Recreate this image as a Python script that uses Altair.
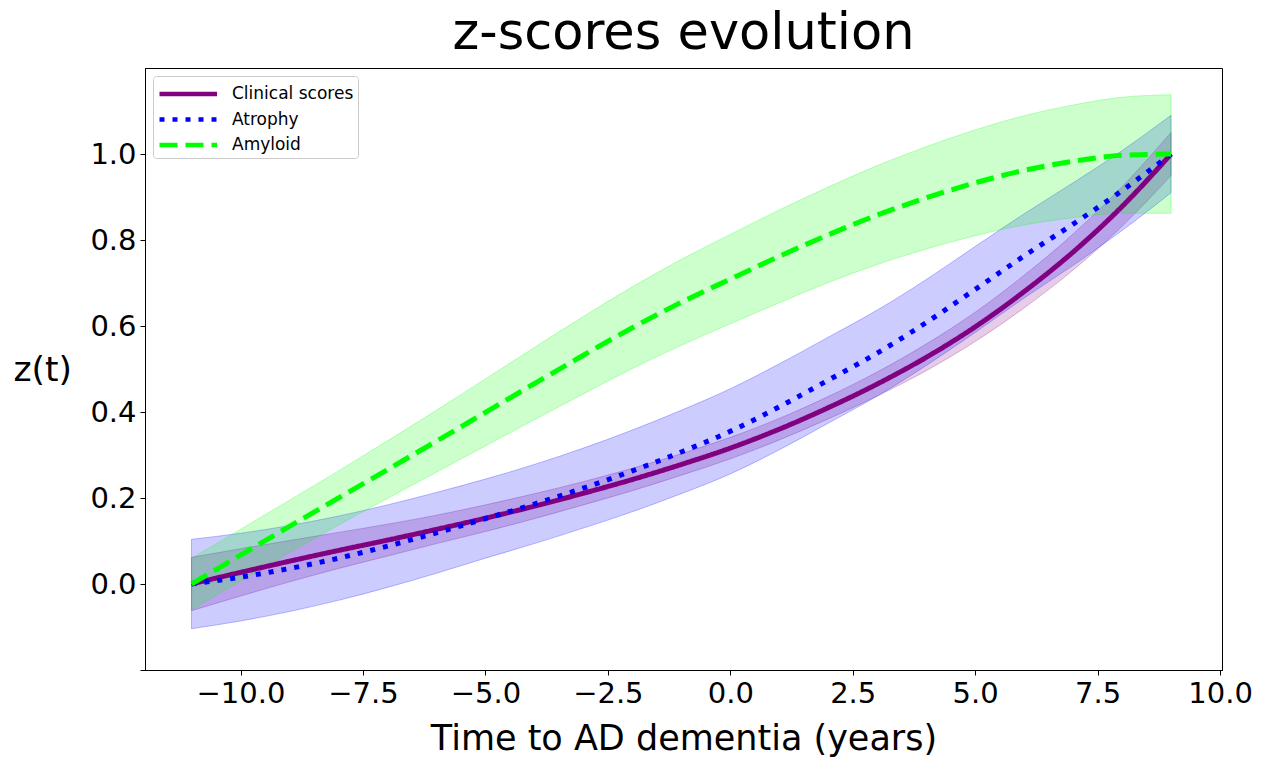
import altair as alt
import pandas as pd

# ---- data ----
t_years = [-11, -10, -9, -8, -7, -6, -5, -4, -3, -2, -1, 0, 1, 2, 3, 4, 5, 6, 7, 8, 9]

clinical = [0.000, 0.027, 0.053, 0.078, 0.102, 0.127, 0.153, 0.181, 0.211, 0.243, 0.278,
            0.316, 0.360, 0.410, 0.465, 0.527, 0.598, 0.680, 0.772, 0.878, 1.000]
atrophy = [0.000, 0.016, 0.036, 0.060, 0.088, 0.119, 0.152, 0.186, 0.223, 0.263, 0.307,
           0.355, 0.412, 0.474, 0.537, 0.608, 0.685, 0.763, 0.837, 0.915, 1.000]
amyloid = [0.000, 0.067, 0.134, 0.200, 0.266, 0.332, 0.399, 0.466, 0.532, 0.596, 0.655,
           0.709, 0.762, 0.812, 0.858, 0.898, 0.933, 0.962, 0.983, 0.997, 1.000]

# half widths of the shaded uncertainty bands
clinical_hw = [0.062, 0.055, 0.048, 0.042, 0.037, 0.033, 0.031, 0.029, 0.027, 0.026, 0.025,
               0.025, 0.025, 0.026, 0.028, 0.031, 0.034, 0.038, 0.042, 0.046, 0.050]
atrophy_hw = [0.104, 0.102, 0.100, 0.098, 0.096, 0.094, 0.092, 0.092, 0.093, 0.095, 0.097,
              0.099, 0.100, 0.100, 0.100, 0.100, 0.100, 0.098, 0.096, 0.093, 0.090]
amyloid_hw = [0.060, 0.060, 0.061, 0.063, 0.067, 0.072, 0.078, 0.084, 0.090, 0.095, 0.100,
              0.104, 0.108, 0.111, 0.115, 0.119, 0.123, 0.127, 0.131, 0.135, 0.138]

series_names = ["Clinical scores", "Atrophy", "Amyloid"]
series_colors = ["#800080", "#0000ff", "#00ff00"]
series_dashes = [[1, 0], [5, 8], [18, 8]]

x_ticks = [-10, -7.5, -5, -2.5, 0, 2.5, 5, 7.5, 10]
y_ticks = [-0.2, 0.0, 0.2, 0.4, 0.6, 0.8, 1.0]

rows = []
for name, vals, hws in zip(series_names, [clinical, atrophy, amyloid],
                           [clinical_hw, atrophy_hw, amyloid_hw]):
    for tv, v, h in zip(t_years, vals, hws):
        rows.append({"t": tv, "z": v, "lo": v - h, "hi": v + h, "series": name})
df = pd.DataFrame(rows)

FONT = "DejaVu Sans"

x_enc = alt.X(
    "t:Q",
    scale=alt.Scale(domain=[-11.95, 10.04], nice=False, zero=False),
    axis=alt.Axis(
        title="Time to AD dementia (years)", values=x_ticks, format=".1f",
        labelFontSize=29, titleFontSize=35, labelFlush=False, labelOverlap=False,
        tickSize=5, labelPadding=4, titleBaseline="alphabetic", titleY=79.5,
        titleFontWeight="normal",
    ),
)
y_scale = alt.Scale(domain=[-0.2, 1.2], nice=False, zero=False)
y_axis = alt.Axis(
    title="z(t)", values=y_ticks,
    labelExpr="datum.value < -0.1 ? '' : format(datum.value, '.1f')",
    labelFontSize=29, titleFontSize=34.5, labelFlush=False, labelOverlap=False,
    tickSize=5, labelPadding=4, titleAngle=0, titleAlign="left",
    titleBaseline="alphabetic", titleX=-132, titleY=312, titleFontWeight="normal",
)

line_scale = alt.Scale(domain=series_names, range=series_colors)
dash_scale = alt.Scale(domain=series_names, range=series_dashes)

legend = alt.Legend(orient="top-left", title=None)

base = alt.Chart(df)

# one shaded band per series, coloured directly (no scale, so no legend interplay)
bands = []
for name, col in zip(series_names, series_colors):
    bands.append(
        base.transform_filter(alt.datum.series == name)
        .mark_area(fill=col, fillOpacity=0.2, stroke=col, strokeOpacity=0.25,
                   strokeWidth=1, interpolate="monotone")
        .encode(x=x_enc, y=alt.Y("lo:Q", scale=y_scale, axis=y_axis), y2="hi:Q")
    )

lines = base.mark_line(strokeWidth=5, interpolate="monotone").encode(
    x=x_enc,
    y=alt.Y("z:Q", scale=y_scale, axis=y_axis),
    color=alt.Color("series:N", scale=line_scale, legend=legend),
    strokeDash=alt.StrokeDash("series:N", scale=dash_scale, legend=legend),
)

chart = (
    alt.layer(*bands, lines)
    .properties(
        width=1077, height=602,
        title=alt.Title("z-scores evolution", fontSize=51, fontWeight="normal",
                        font=FONT, anchor="middle", offset=8),
        autosize=alt.AutoSizeParams(type="none"),
        padding={"left": 137, "top": 60, "right": 35, "bottom": 90},
    )
    .configure(font=FONT)
    .configure_view(stroke="black", strokeWidth=1)
    .configure_axis(domainColor="black", tickColor="black", labelColor="black",
                    titleColor="black", grid=False, labelFont=FONT, titleFont=FONT,
                    domainWidth=1, tickWidth=1)
    .configure_legend(labelColor="black", offset=8, symbolType="M-1,0H4",
                      symbolSize=529, symbolStrokeWidth=4.5, labelFontSize=17,
                      labelFont=FONT, labelOffset=47, rowPadding=2.5, padding=4,
                      fillColor="white", strokeColor="#cccccc", cornerRadius=3)
)

chart.save("out.html", embed_options={"renderer": "svg", "actions": False})
